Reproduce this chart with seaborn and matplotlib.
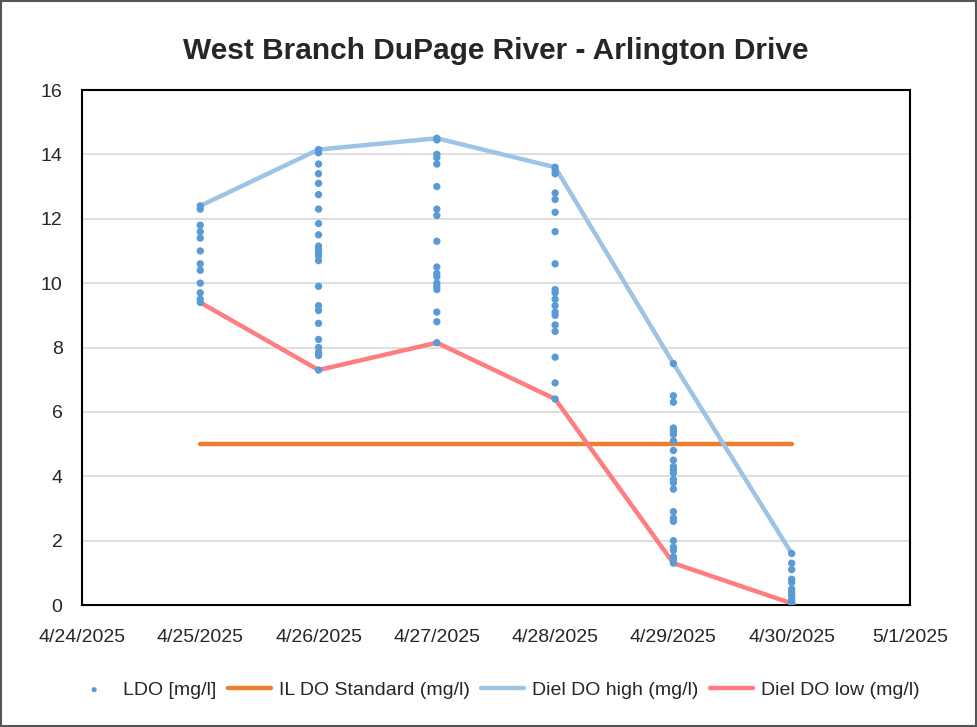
import numpy as np
import pandas as pd
import matplotlib
matplotlib.use("Agg")
import matplotlib.pyplot as plt
import matplotlib.dates as mdates
import seaborn as sns

# dissolved oxygen readings per day (mg/l)
days = ["2025-04-25", "2025-04-26", "2025-04-27", "2025-04-28", "2025-04-29", "2025-04-30"]
ldo_0425 = [12.4, 12.3, 11.8, 11.6, 11.4, 11.0, 10.6, 10.4, 10.0, 9.7, 9.5, 9.4]
ldo_0426 = [14.15, 14.05, 13.7, 13.4, 13.1, 12.75, 12.3, 11.85, 11.5, 11.15, 11.05, 10.95,
            10.85, 10.7, 9.9, 9.3, 9.15, 8.75, 8.25, 8.0, 7.85, 7.75, 7.3]
ldo_0427 = [14.5, 14.45, 14.0, 13.9, 13.7, 13.0, 12.3, 12.1, 11.3, 10.5, 10.3, 10.2,
            10.0, 9.9, 9.8, 9.1, 8.8, 8.15]
ldo_0428 = [13.6, 13.5, 13.4, 12.8, 12.6, 12.2, 11.6, 10.6, 9.8, 9.7, 9.5, 9.3, 9.1,
            9.0, 8.7, 8.5, 7.7, 6.9, 6.4]
ldo_0429 = [7.5, 6.5, 6.3, 5.5, 5.4, 5.3, 5.1, 4.8, 4.5, 4.3, 4.2, 4.1, 3.9, 3.8, 3.6,
            2.9, 2.7, 2.6, 2.0, 1.8, 1.7, 1.5, 1.4, 1.3]
ldo_0430 = [1.6, 1.3, 1.1, 0.8, 0.7, 0.5, 0.4, 0.3, 0.2, 0.1, 0.05, 0.0]
diel_high = [12.4, 14.15, 14.5, 13.6, 7.5, 1.6]
diel_low = [9.4, 7.3, 8.15, 6.4, 1.3, 0.05]
do_standard = [5, 5, 5, 5, 5, 5]

ldo_all = [ldo_0425, ldo_0426, ldo_0427, ldo_0428, ldo_0429, ldo_0430]
pts = pd.DataFrame({
    "date": pd.to_datetime(np.repeat(days, [len(v) for v in ldo_all])),
    "ldo": np.concatenate(ldo_all),
})
lines = pd.DataFrame({
    "date": pd.to_datetime(days),
    "std": do_standard,
    "high": diel_high,
    "low": diel_low,
})

sns.set_style("white")
plt.rcParams["font.family"] = ["Liberation Sans", "DejaVu Sans"]

fig = plt.figure(figsize=(9.77, 7.27), dpi=100)
ax = fig.add_axes([0.0839, 0.1678, 0.8475, 0.7084])

sns.scatterplot(data=pts, x="date", y="ldo", ax=ax, color="#5B9BD5", s=28,
                edgecolor="none", label="LDO [mg/l]", zorder=3)
sns.lineplot(data=lines, x="date", y="std", ax=ax, color="#ED7D31", lw=3.2,
             label="IL DO Standard (mg/l)", zorder=2)
sns.lineplot(data=lines, x="date", y="high", ax=ax, color="#9DC3E6", lw=3.2,
             label="Diel DO high (mg/l)", zorder=2)
sns.lineplot(data=lines, x="date", y="low", ax=ax, color="#FF7C80", lw=3.2,
             label="Diel DO low (mg/l)", zorder=2)

ax.set_xlim(pd.Timestamp("2025-04-24"), pd.Timestamp("2025-05-01"))
ax.set_ylim(0, 16)
ax.set_yticks(range(0, 17, 2))
ax.xaxis.set_major_locator(mdates.DayLocator())
ax.xaxis.set_major_formatter(mdates.DateFormatter("%-m/%-d/%Y"))
ax.grid(axis="y", color="#d9d9d9", lw=1.2)
ax.set_axisbelow(True)
ax.set_xlabel("")
ax.set_ylabel("")
ax.tick_params(labelsize=14, length=0)
ax.tick_params(axis="x", pad=17)
ax.tick_params(axis="y", pad=14)
for s in ax.spines.values():
    s.set_color("black")
    s.set_linewidth(1.5)

ax.set_title("West Branch DuPage River - Arlington Drive", fontsize=21.5,
             fontweight="bold", pad=22)

h, l = ax.get_legend_handles_labels()
ax.legend(h, l, loc="center", bbox_to_anchor=(0.5, -0.165), ncol=4, frameon=False,
          fontsize=14, handlelength=2.2, columnspacing=0.6, handletextpad=0.4,
          markerscale=0.7)

fig.patches.append(plt.Rectangle((0.001, 0.001), 0.998, 0.998, transform=fig.transFigure,
                                 fill=False, edgecolor="#555555", lw=1.5))

fig.savefig("out.png", dpi=100)
